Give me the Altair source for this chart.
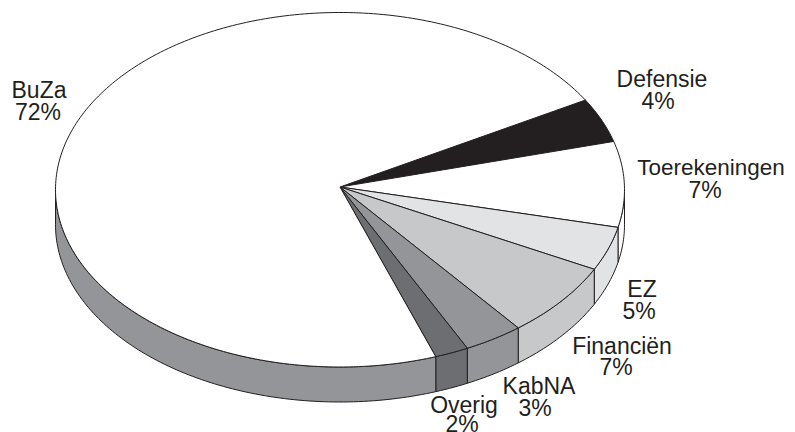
import math
import altair as alt
import pandas as pd

names = ["Defensie", "Toerekeningen", "EZ", "Financiën", "KabNA", "Overig", "BuZa"]
shares = [4.05, 7.8, 4.0, 6.82, 3.39, 1.92, 72.02]
top_fill = ["#231f20", "#ffffff", "#e1e3e5", "#c7c8ca", "#939598", "#6d6e71", "#ffffff"]
side_fill = ["#231f20", "#ffffff", "#e1e3e5", "#c7c8ca", "#939598", "#6d6e71", "#939598"]

label_names = ["BuZa", "Defensie", "EZ", "Financiën", "KabNA", "Overig"]
label_pcts = ["72%", "4%", "5%", "7%", "3%", "2%"]
label_x1 = [39, 662, 642, 622, 539, 464]
label_x2 = [38, 658, 639, 616, 535, 462]
label_y1 = [91, 80, 290, 347, 387, 406]
label_y2 = [113, 102, 312, 368, 409, 425]

CX, CY, RX, RY, DEPTH = 340, 189.75, 284.5, 177.25, 35
APEX_Y = 187
START = -30.4
W, H = 779, 424


def arc(a, b, dy=0.0):
    n = max(2, int(abs(b - a) / 1.0) + 1)
    pts = []
    for i in range(n + 1):
        t = math.radians(a + (b - a) * i / n)
        pts.append((CX + RX * math.cos(t), CY + RY * math.sin(t) + dy))
    return pts


x_scale = alt.Scale(domain=[8, 8 + W], range=[0, W])
y_scale = alt.Scale(domain=[8, 8 + H], range=[0, H])


def polygon(pts, fill):
    df = pd.DataFrame({"px": [p[0] for p in pts], "py": [p[1] for p in pts], "o": range(len(pts))})
    return alt.Chart(df).mark_line(
        fill=fill, stroke="#231f20", strokeWidth=1, strokeJoin="round", interpolate="linear-closed", clip=False
    ).encode(
        x=alt.X("px:Q", scale=x_scale, axis=None),
        y=alt.Y("py:Q", scale=y_scale, axis=None),
        order="o:Q",
    )


def text_layer(df, xf, yf, tf, size):
    return alt.Chart(df).mark_text(
        font="Liberation Sans", fontSize=size, color="#231f20", align="center", baseline="middle", clip=False
    ).encode(
        x=alt.X(f"{xf}:Q", scale=x_scale, axis=None),
        y=alt.Y(f"{yf}:Q", scale=y_scale, axis=None),
        text=f"{tf}:N",
    )


layers = []
angle = START
tops = []
for name, share, tf, sf in zip(names, shares, top_fill, side_fill):
    a, b = angle, angle + share * 3.6
    angle = b
    lo, hi = max(a, 0.0), min(b, 180.0)
    if hi > lo:
        layers.append(polygon(arc(lo, hi) + arc(hi, lo, DEPTH), sf))
    tops.append(polygon([(CX, APEX_Y)] + arc(a, b), tf))
layers += tops

labels = pd.DataFrame({"name": label_names, "pct": label_pcts, "x1": label_x1, "x2": label_x2,
                       "y1": label_y1, "y2": label_y2})
layers.append(text_layer(labels, "x1", "y1", "name", 23))
layers.append(text_layer(labels, "x2", "y2", "pct", 23))

# the longest label would run off the page at full size
toer = pd.DataFrame({"name": ["Toerekeningen"], "pct": ["7%"], "x1": [711], "x2": [705], "y1": [168], "y2": [191]})
layers.append(text_layer(toer, "x1", "y1", "name", 22.5))
layers.append(text_layer(toer, "x2", "y2", "pct", 23))

chart = alt.layer(*layers).properties(
    width=W, height=H, padding=0, autosize=alt.AutoSizeParams(type="none"), background="#ffffff"
).configure_view(stroke=None)

chart.save("out.html", embed_options={"renderer": "svg", "actions": False})
